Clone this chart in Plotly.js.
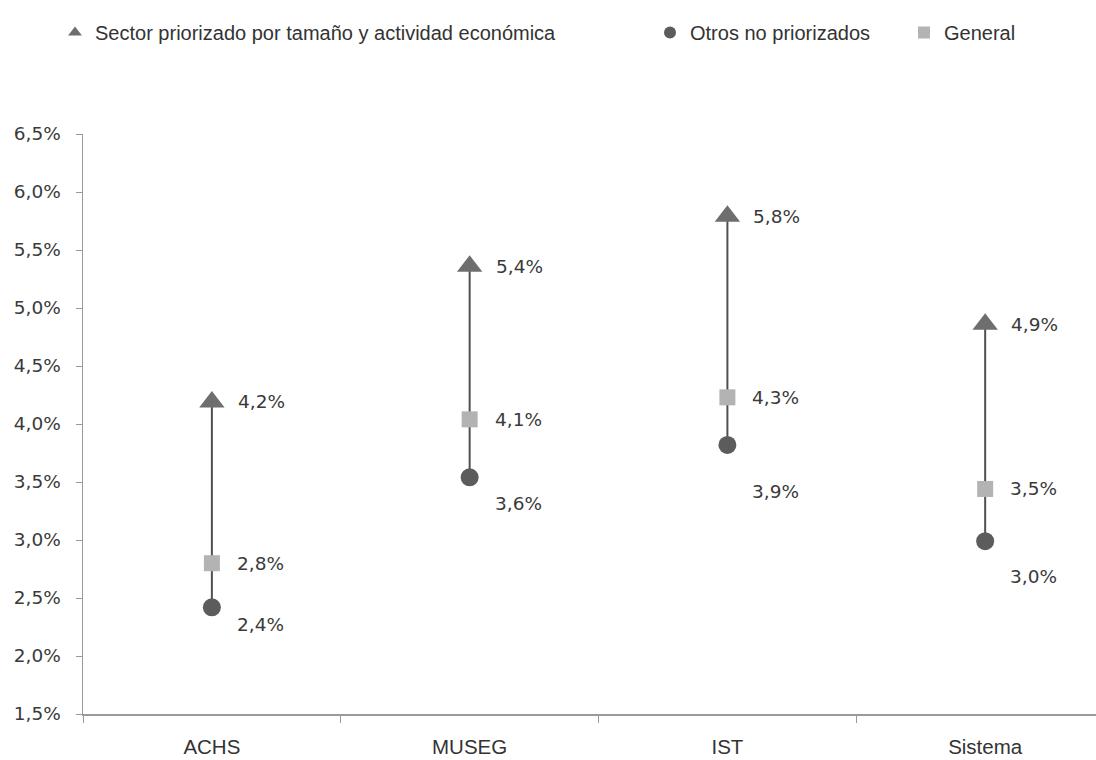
<!DOCTYPE html>
<html>
<head>
<meta charset="utf-8">
<script src="https://cdn.plot.ly/plotly-3.0.1.min.js"></script>
<style>
html,body{margin:0;padding:0;background:#fff;}
#chart{width:1096px;height:760px;}
</style>
</head>
<body>
<div id="chart"></div>
<script>
// Data
var categories = ["ACHS", "MUSEG", "IST", "Sistema"];
var priorizado = [4.19, 5.36, 5.79, 4.86];      // Sector priorizado (triangle)
var otros = [2.42, 3.54, 3.82, 2.99];           // Otros no priorizados (circle)
var general = [2.80, 4.04, 4.23, 3.44];         // General (square)
var priorizadoLabels = ["4,2%", "5,4%", "5,8%", "4,9%"];
var otrosLabels = ["2,4%", "3,6%", "3,9%", "3,0%"];
var generalLabels = ["2,8%", "4,1%", "4,3%", "3,5%"];
var yTickVals = [1.5, 2.0, 2.5, 3.0, 3.5, 4.0, 4.5, 5.0, 5.5, 6.0, 6.5];
var yTickText = ["1,5%", "2,0%", "2,5%", "3,0%", "3,5%", "4,0%", "4,5%", "5,0%", "5,5%", "6,0%", "6,5%"];

// connector lines (circle -> triangle) per category
var lx = [], ly = [];
categories.forEach(function (c, i) {
  lx.push(c, c, null);
  ly.push(otros[i], priorizado[i], null);
});

var numFont = {family: "DejaVu Sans, Verdana, sans-serif", size: 18.5, color: "#3a3a3a"};
var textFont = "Liberation Sans, Arial, sans-serif";
var circleShift = [-17, -26, -47, -35];

var annotations = [];
categories.forEach(function (c, i) {
  annotations.push({x: c, y: priorizado[i], text: priorizadoLabels[i], showarrow: false,
    xanchor: "left", yanchor: "middle", xshift: 24, yshift: 0, font: numFont});
  annotations.push({x: c, y: general[i], text: generalLabels[i], showarrow: false,
    xanchor: "left", yanchor: "middle", xshift: 23, yshift: 0, font: numFont});
  annotations.push({x: c, y: otros[i], text: otrosLabels[i], showarrow: false,
    xanchor: "left", yanchor: "middle", xshift: 23, yshift: circleShift[i], font: numFont});
});

var traces = [
  {x: lx, y: ly, mode: "lines", line: {color: "#505050", width: 2}, showlegend: false, hoverinfo: "skip"},
  {x: categories, y: priorizado, name: "Sector priorizado por tamaño y actividad económica", mode: "markers",
   marker: {symbol: "triangle-up", size: 22, color: "#6e6e6e"}, legend: "legend"},
  {x: categories, y: otros, name: "Otros no priorizados", mode: "markers",
   marker: {symbol: "circle", size: 18, color: "#5c5c5c"}, legend: "legend2"},
  {x: categories, y: general, name: "General", mode: "markers",
   marker: {symbol: "square", size: 16, color: "#b3b3b3"}, legend: "legend3"}
];

function legendAt(px) {
  return {
    orientation: "h", xref: "container", yref: "container",
    x: px / 1096, y: 1 - 13 / 760, xanchor: "left", yanchor: "top",
    font: {family: textFont, size: 20, color: "#333333"},
    itemwidth: 30, itemsizing: "constant", bgcolor: "rgba(0,0,0,0)"
  };
}

var layout = {
  width: 1096, height: 760,
  margin: {l: 83, r: 0, t: 134, b: 46, pad: 0},
  paper_bgcolor: "#ffffff", plot_bgcolor: "#ffffff",
  showlegend: true,
  legend: legendAt(55),
  legend2: legendAt(650),
  legend3: legendAt(904),
  xaxis: {
    type: "category", range: [-0.5, 3.43], tickson: "boundaries",
    showgrid: false, zeroline: false, showline: true, linecolor: "#9a9a9a", linewidth: 1.5,
    ticks: "outside", ticklen: 7, tickcolor: "#9a9a9a",
    tickfont: {family: textFont, size: 20.5, color: "#333333"},
    ticklabelstandoff: 14
  },
  yaxis: {
    range: [1.5, 6.5], tickvals: yTickVals, ticktext: yTickText,
    showgrid: false, zeroline: false, showline: true, linecolor: "#9a9a9a", linewidth: 1.5,
    ticks: "outside", ticklen: 6, tickcolor: "#9a9a9a",
    tickfont: numFont,
    ticklabelstandoff: 11
  },
  annotations: annotations
};

Plotly.newPlot("chart", traces, layout, {displayModeBar: false, staticPlot: true});
</script>
</body>
</html>
